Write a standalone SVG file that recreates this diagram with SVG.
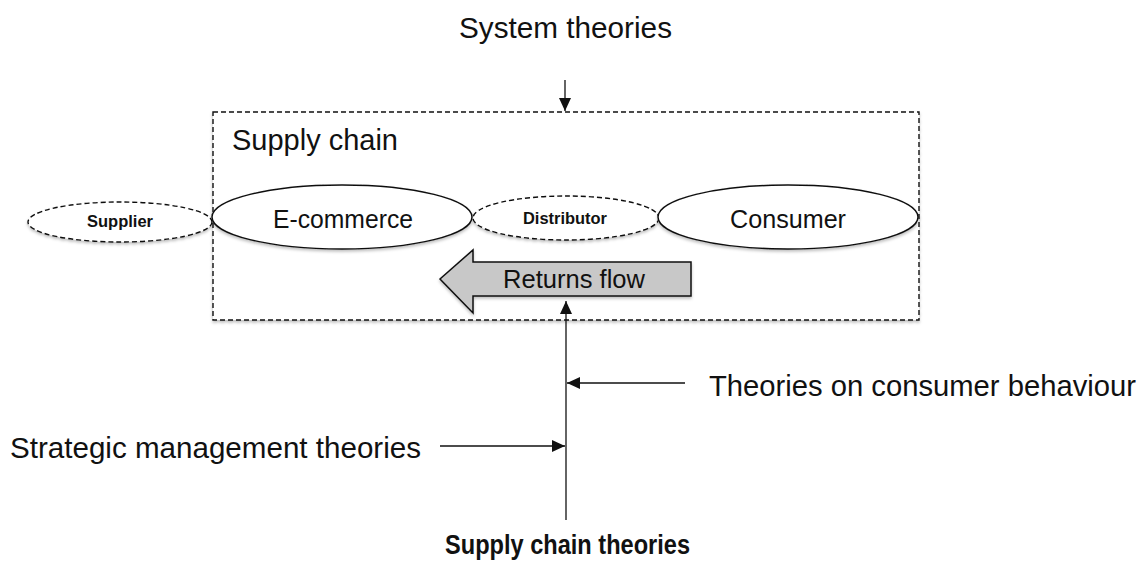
<svg xmlns="http://www.w3.org/2000/svg" width="1142" height="567" viewBox="0 0 1142 567">
<style>
text{font-family:"Liberation Sans",Arial,sans-serif;fill:#111}
.big{font-size:29px}
.mid{font-size:25px}
.small{font-size:16.5px;font-weight:bold}
.solid{fill:#fff;stroke:#111;stroke-width:1.5}
.dash{fill:#fff;stroke:#111;stroke-width:1.4;stroke-dasharray:5 3}
.line{stroke:#111;stroke-width:1.3;fill:none}
</style>
<defs>
<marker id="ah" markerWidth="13" markerHeight="12" refX="13" refY="6" orient="auto" markerUnits="userSpaceOnUse" viewBox="0 0 13 12">
<path d="M0,0 L13,6 L0,12 z" fill="#111"/>
</marker>
<filter id="sh" x="-10%" y="-20%" width="120%" height="150%">
<feDropShadow dx="0" dy="2" stdDeviation="1.5" flood-color="#000" flood-opacity="0.25"/>
</filter>
</defs>
<g id="supply-chain-box">
<rect x="213" y="112" width="706" height="208" class="dash" filter="url(#sh)"/>
<text x="232" y="150" class="big" textLength="166" lengthAdjust="spacingAndGlyphs">Supply chain</text>
</g>
<g id="supplier">
<ellipse cx="120" cy="222" rx="92" ry="20" class="dash" filter="url(#sh)"/>
<text x="87" y="227" class="small" textLength="66" lengthAdjust="spacingAndGlyphs">Supplier</text>
</g>
<g id="ecommerce">
<ellipse cx="342" cy="217" rx="130" ry="32" class="solid" filter="url(#sh)"/>
<text x="273" y="228" class="mid" textLength="140" lengthAdjust="spacingAndGlyphs">E-commerce</text>
</g>
<g id="distributor">
<ellipse cx="566" cy="218" rx="93" ry="22" class="dash" filter="url(#sh)"/>
<text x="523" y="224" class="small" textLength="84" lengthAdjust="spacingAndGlyphs">Distributor</text>
</g>
<g id="consumer">
<ellipse cx="788" cy="217" rx="130" ry="32" class="solid" filter="url(#sh)"/>
<text x="730" y="228" class="mid" textLength="116" lengthAdjust="spacingAndGlyphs">Consumer</text>
</g>
<g id="returns-flow">
<polygon points="691,262 473,262 473,250 440,279 473,313 473,296 691,296" fill="#c8c8c8" stroke="#111" stroke-width="1.5" filter="url(#sh)"/>
<text x="503" y="288" class="mid" textLength="142" lengthAdjust="spacingAndGlyphs">Returns flow</text>
</g>
<g id="labels">
<text x="459" y="38" class="big" textLength="213" lengthAdjust="spacingAndGlyphs">System theories</text>
<text x="709" y="396" class="big" textLength="427" lengthAdjust="spacingAndGlyphs">Theories on consumer behaviour</text>
<text x="10" y="458" class="big" textLength="411" lengthAdjust="spacingAndGlyphs">Strategic management theories</text>
<text x="445" y="554" style="font-weight:bold;font-size:27px" textLength="245" lengthAdjust="spacingAndGlyphs">Supply chain theories</text>
</g>
<g id="connectors">
<line x1="565" y1="80" x2="565" y2="111" class="line" marker-end="url(#ah)"/>
<line x1="566" y1="520" x2="566" y2="301" class="line" marker-end="url(#ah)"/>
<line x1="685" y1="383" x2="567" y2="383" class="line" marker-end="url(#ah)"/>
<line x1="440" y1="446" x2="565" y2="446" class="line" marker-end="url(#ah)"/>
</g>
</svg>
